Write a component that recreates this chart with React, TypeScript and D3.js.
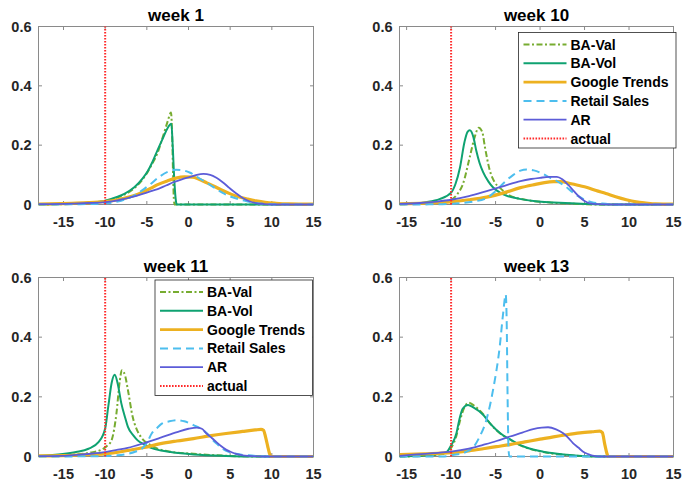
import React from "react";
import * as d3 from "d3";

type Pt = [number, number];

// ---------- tick labels ----------
const xTicks = [-15, -10, -5, 0, 5, 10, 15];
const yTicks = [0, 0.2, 0.4, 0.6];
const seriesNames = ["BA-Val", "BA-Vol", "Google Trends", "Retail Sales", "AR"];
const actualName = "actual";
const actualValue = -10;
const panelTitles = ["week 1", "week 10", "week 11", "week 13"];
const xMins = [-18, -15.8, -18, -15.8];

// ---------- week 1 ----------
const w1BAVal: Pt[] = [[-18,0],[-14,0.002],[-12,0.005],[-10,0.012],[-8.5,0.024],[-7.7,0.033],[-6.5,0.055],[-5.5,0.085],[-4.9,0.11],[-4.3,0.14],[-3.7,0.175],[-3,0.235],[-2.5,0.28],[-2.1,0.31],[-1.95,0.22],[-1.85,0.1],[-1.75,0.015],[-1.65,0],[15,0]];
const w1BAVol: Pt[] = [[-18,0],[-14,0.003],[-12,0.006],[-10,0.013],[-8.5,0.026],[-7.7,0.036],[-6.5,0.058],[-5.5,0.088],[-4.9,0.112],[-4.3,0.145],[-3.7,0.184],[-3,0.228],[-2.5,0.258],[-2.05,0.272],[-1.9,0.2],[-1.7,0.08],[-1.5,0.01],[-1.4,0],[15,0]];
const w1Google: Pt[] = [[-18,0.001],[-14,0.004],[-12,0.006],[-10,0.01],[-8.5,0.016],[-7.7,0.021],[-6.5,0.03],[-5.7,0.039],[-4.5,0.055],[-3.7,0.067],[-2.5,0.08],[-1.5,0.089],[-0.5,0.093],[0.5,0.092],[1.2,0.086],[2.2,0.073],[3.2,0.06],[4.1,0.047],[5.1,0.035],[6.1,0.025],[7.1,0.018],[8.1,0.012],[9.2,0.007],[10.5,0.004],[12,0.002],[15,0.001]];
const w1Retail: Pt[] = [[-18,0],[-13,0.001],[-10,0.004],[-8.5,0.01],[-7.7,0.016],[-6.5,0.03],[-5.7,0.045],[-4.5,0.07],[-3.7,0.089],[-2.5,0.11],[-1.5,0.117],[-0.5,0.114],[0.2,0.107],[1.2,0.09],[2.2,0.073],[3.2,0.055],[4.1,0.039],[5.1,0.026],[6.1,0.017],[7.1,0.01],[8.1,0.005],[10,0.001],[15,0]];
const w1AR: Pt[] = [[-18,0.001],[-14,0.003],[-12,0.005],[-10,0.008],[-8.5,0.014],[-7.7,0.019],[-6.5,0.027],[-5.7,0.034],[-4.5,0.045],[-3.7,0.052],[-2.7,0.064],[-1.8,0.075],[-0.8,0.085],[0.2,0.093],[1,0.1],[1.8,0.103],[2.6,0.1],[3.35,0.09],[4.1,0.075],[4.9,0.056],[5.7,0.038],[6.5,0.022],[7.3,0.011],[8.1,0.005],[9,0.002],[10,0],[15,0]];

// ---------- week 10 ----------
const w10BAVal: Pt[] = [[-15.8,0.001],[-13,0.003],[-11.3,0.008],[-10,0.016],[-9.3,0.035],[-8.66,0.07],[-7.9,0.16],[-7.35,0.227],[-6.9,0.259],[-6.5,0.245],[-6.2,0.194],[-5.65,0.115],[-5.1,0.075],[-4.5,0.056],[-3.4,0.03],[-1.5,0.015],[1.5,0.006],[4,0.002],[7,0],[15,0]];
const w10BAVol: Pt[] = [[-15.8,0.002],[-14,0.004],[-12.8,0.008],[-11.3,0.018],[-10,0.04],[-9.5,0.07],[-9,0.125],[-8.5,0.21],[-8.15,0.245],[-7.9,0.25],[-7.5,0.228],[-7.16,0.18],[-6.8,0.14],[-6.4,0.109],[-5.8,0.077],[-5.3,0.058],[-4.5,0.04],[-3.8,0.03],[-2.3,0.019],[-0.5,0.011],[1.5,0.007],[3.5,0.004],[5.2,0.002],[8,0],[15,0]];
const w10Google: Pt[] = [[-15.8,0.002],[-13.5,0.004],[-11.6,0.006],[-9.8,0.01],[-8,0.016],[-6,0.025],[-4,0.04],[-2.3,0.056],[-0.5,0.068],[0.5,0.074],[1.5,0.077],[2.3,0.077],[3.5,0.07],[4.5,0.063],[5.2,0.058],[6.3,0.047],[7.4,0.037],[8.5,0.026],[9.7,0.016],[10.8,0.009],[11.9,0.005],[13,0.002],[15,0.001]];
const w10Retail: Pt[] = [[-15.8,0],[-11,0.001],[-9,0.004],[-7.5,0.01],[-6,0.022],[-5,0.045],[-4,0.075],[-3,0.1],[-2.2,0.114],[-1.5,0.118],[-0.7,0.115],[0.2,0.105],[1,0.092],[2,0.077],[2.8,0.062],[3.5,0.045],[4.3,0.028],[5,0.016],[5.8,0.008],[7,0.003],[9,0],[15,0]];
const w10AR: Pt[] = [[-15.8,0.002],[-13.5,0.005],[-11.6,0.01],[-10,0.016],[-8,0.028],[-6,0.045],[-4,0.063],[-2.2,0.079],[-1,0.086],[0,0.09],[1,0.093],[1.9,0.093],[2.5,0.085],[3.2,0.065],[3.8,0.045],[4.4,0.026],[5,0.012],[5.6,0.004],[6.5,0.001],[8,0],[15,0]];

// ---------- week 11 ----------
const w11BAVal: Pt[] = [[-18,0.001],[-15,0.004],[-12,0.012],[-10.5,0.022],[-9.8,0.035],[-9.24,0.054],[-8.65,0.144],[-8.26,0.25],[-8.0,0.289],[-7.6,0.27],[-7.27,0.223],[-6.7,0.133],[-6.2,0.09],[-5.7,0.065],[-4.5,0.037],[-2.55,0.018],[0.6,0.009],[4,0.003],[8,0],[15,0]];
const w11BAVol: Pt[] = [[-18,0.002],[-15.1,0.008],[-13.5,0.015],[-12,0.026],[-10.8,0.048],[-10,0.094],[-9.63,0.167],[-9.2,0.25],[-8.85,0.274],[-8.5,0.245],[-8.06,0.178],[-7.6,0.13],[-7.27,0.099],[-6.6,0.07],[-6.1,0.054],[-5.3,0.04],[-4.5,0.029],[-3.3,0.02],[-2.15,0.015],[0.6,0.007],[4.5,0.002],[8,0],[15,0]];
const w11Google: Pt[] = [[-18,0.002],[-15.1,0.003],[-12.5,0.006],[-10,0.009],[-7.3,0.02],[-5.3,0.03],[-3.34,0.043],[-1.4,0.052],[0.6,0.06],[2.5,0.069],[4.5,0.077],[6.5,0.084],[8.0,0.089],[8.7,0.091],[9.0,0.088],[9.25,0.065],[9.5,0.035],[9.7,0.012],[9.9,0],[15,0]];
const w11Retail: Pt[] = [[-18,0],[-11.2,0.001],[-8.5,0.004],[-7.3,0.009],[-6.4,0.016],[-5.6,0.026],[-5,0.045],[-4.4,0.078],[-3.8,0.095],[-3.2,0.11],[-2.3,0.118],[-1.4,0.122],[-0.5,0.118],[0.6,0.105],[1.76,0.088],[2.4,0.072],[2.94,0.054],[3.5,0.04],[4.1,0.026],[4.9,0.015],[5.7,0.009],[7.6,0.003],[10,0],[15,0]];
const w11AR: Pt[] = [[-18,0.001],[-15.1,0.002],[-13.2,0.006],[-11.5,0.01],[-10,0.015],[-8.6,0.022],[-7.3,0.029],[-5.3,0.045],[-3.34,0.063],[-1.37,0.082],[0,0.093],[1,0.097],[1.6,0.093],[2.17,0.077],[2.8,0.062],[3.35,0.048],[3.9,0.035],[4.5,0.023],[5.1,0.015],[5.7,0.009],[6.5,0.004],[7.3,0.002],[9,0],[15,0]];

// ---------- week 13 ----------
const w13BAVal: Pt[] = [[-15.8,0],[-13,0.002],[-11,0.008],[-10.5,0.012],[-9.97,0.03],[-9.4,0.07],[-9.0,0.12],[-8.5,0.165],[-8.0,0.18],[-7.4,0.17],[-6.4,0.142],[-5.6,0.11],[-4.9,0.088],[-4.2,0.071],[-3.4,0.057],[-2.5,0.041],[-1.53,0.029],[0.35,0.015],[3.0,0.005],[5.2,0.001],[7,0],[15,0]];
const w13BAVol: Pt[] = [[-15.8,0],[-13,0.003],[-12,0.006],[-11,0.01],[-10.5,0.015],[-9.97,0.039],[-9.4,0.078],[-9.1,0.12],[-8.7,0.16],[-8.1,0.173],[-7.5,0.165],[-6.4,0.14],[-5.6,0.11],[-4.9,0.089],[-4.2,0.072],[-3.4,0.058],[-2.5,0.042],[-1.53,0.03],[0.35,0.016],[3.0,0.006],[5.2,0.001],[7,0],[15,0]];
const w13Google: Pt[] = [[-15.8,0.006],[-13,0.009],[-10,0.013],[-8,0.019],[-6.4,0.026],[-4.9,0.033],[-3.4,0.04],[-1.7,0.049],[0,0.058],[1.5,0.066],[3,0.073],[4.5,0.079],[5.9,0.083],[6.7,0.085],[7.0,0.08],[7.28,0.04],[7.5,0.012],[7.65,0],[15,0]];
const w13Retail: Pt[] = [[-15.8,0],[-11,0],[-9.8,0.005],[-8.28,0.016],[-7.53,0.03],[-6.78,0.067],[-6.03,0.123],[-5.28,0.224],[-4.53,0.369],[-4.15,0.48],[-3.86,0.543],[-3.75,0.45],[-3.65,0.2],[-3.55,0.03],[-3.45,0],[15,0]];
const w13AR: Pt[] = [[-15.8,0.002],[-13.9,0.007],[-12,0.011],[-10,0.016],[-8,0.026],[-6.4,0.039],[-4.9,0.052],[-3.4,0.067],[-2,0.08],[-0.78,0.092],[0.2,0.097],[0.9,0.098],[1.8,0.091],[2.6,0.078],[3.2,0.062],[3.7,0.045],[4.3,0.03],[4.8,0.017],[5.4,0.008],[5.9,0.003],[7,0],[15,0]];

const panelSeries: Pt[][][] = [
  [w1BAVal, w1BAVol, w1Google, w1Retail, w1AR],
  [w10BAVal, w10BAVol, w10Google, w10Retail, w10AR],
  [w11BAVal, w11BAVol, w11Google, w11Retail, w11AR],
  [w13BAVal, w13BAVol, w13Google, w13Retail, w13AR],
];

// ---------- styles ----------
const styles = [
  { color: "#77AC30", width: 2, dash: "6,2.5,2,2.5" },
  { color: "#0FA271", width: 2, dash: "" },
  { color: "#EDB120", width: 3.2, dash: "" },
  { color: "#4DBEEE", width: 2, dash: "8,5" },
  { color: "#5C5CD8", width: 1.8, dash: "" },
];
const actualStyle = { color: "#FF2A2A", width: 2, dash: "1.6,1.4" };

const layout = [
  { left: 38.5, right: 313.5, top: 26.5, bottom: 204.5, legend: null as null | { x: number; y: number } },
  { left: 399.5, right: 673.5, top: 26.5, bottom: 204.5, legend: { x: 518.5, y: 32.5 } },
  { left: 38.5, right: 313.5, top: 277.5, bottom: 456.5, legend: { x: 155, y: 280 } },
  { left: 399.5, right: 673.5, top: 277.5, bottom: 456.5, legend: null },
];

const FONT = "'Liberation Sans', Arial, Helvetica, sans-serif";
const TEXT = "#262626";
const AXIS = "#8a8a8a";

function Panel({ idx }: { idx: number }) {
  const L = layout[idx];
  const x = d3.scaleLinear().domain([xMins[idx], 15]).range([L.left, L.right]);
  const y = d3.scaleLinear().domain([0, 0.6]).range([L.bottom, L.top]);
  const line = d3
    .line<Pt>()
    .x((d) => x(d[0]))
    .y((d) => y(d[1]))
    .curve(d3.curveMonotoneX);
  const cx = (L.left + L.right) / 2;
  const tk = 3.5;
  const legW = 157.5;
  const rowH = 18.8;
  const clipId = `clip${idx}`;
  return (
    <g>
      <defs>
        <clipPath id={clipId}>
          <rect x={L.left} y={L.top - 2} width={L.right - L.left} height={L.bottom - L.top + 4} />
        </clipPath>
      </defs>
      <text x={cx} y={L.top - 5.5} textAnchor="middle" fontFamily={FONT} fontWeight="bold" fontSize={17} fill="#000">
        {panelTitles[idx]}
      </text>
      {/* box */}
      <rect x={L.left} y={L.top} width={L.right - L.left} height={L.bottom - L.top} fill="white" stroke={AXIS} strokeWidth={1} />
      {/* x ticks */}
      {xTicks.map((t) => (
        <g key={"xt" + t}>
          <line x1={x(t)} x2={x(t)} y1={L.bottom} y2={L.bottom - tk} stroke={AXIS} />
          <line x1={x(t)} x2={x(t)} y1={L.top} y2={L.top + tk} stroke={AXIS} />
          <text x={x(t)} y={L.bottom + 22} textAnchor="middle" fontFamily={FONT} fontWeight="bold" fontSize={14.5} fill={TEXT}>
            {t}
          </text>
        </g>
      ))}
      {yTicks.map((t) => (
        <g key={"yt" + t}>
          <line x1={L.left} x2={L.left + tk} y1={y(t)} y2={y(t)} stroke={AXIS} />
          <line x1={L.right} x2={L.right - tk} y1={y(t)} y2={y(t)} stroke={AXIS} />
          <text x={L.left - 7} y={y(t)} dy="0.36em" textAnchor="end" fontFamily={FONT} fontWeight="bold" fontSize={14.5} fill={TEXT}>
            {t === 0 ? "0" : t.toFixed(1)}
          </text>
        </g>
      ))}
      <g clipPath={`url(#${clipId})`}>
        {panelSeries[idx].map((s, i) => (
          <path
            key={"s" + i}
            d={line(s) || ""}
            fill="none"
            stroke={styles[i].color}
            strokeWidth={styles[i].width}
            strokeDasharray={styles[i].dash || undefined}
            strokeLinejoin="round"
          />
        ))}
        <line
          x1={x(actualValue)}
          x2={x(actualValue)}
          y1={y(0)}
          y2={y(0.6)}
          stroke={actualStyle.color}
          strokeWidth={actualStyle.width}
          strokeDasharray={actualStyle.dash}
        />
      </g>
      {L.legend && (
        <g>
          <rect x={L.legend.x} y={L.legend.y} width={legW} height={115.5} fill="white" stroke="#262626" strokeWidth={0.8} />
          {[...seriesNames, actualName].map((name, i) => {
            const st = i < styles.length ? styles[i] : actualStyle;
            const ry = L.legend!.y + 12 + i * rowH;
            return (
              <g key={"lg" + i}>
                <line
                  x1={L.legend!.x + 5}
                  x2={L.legend!.x + 48}
                  y1={ry}
                  y2={ry}
                  stroke={st.color}
                  strokeWidth={i === 2 ? 2.6 : st.width}
                  strokeDasharray={st.dash || undefined}
                />
                <text x={L.legend!.x + 52} y={ry} dy="0.36em" fontFamily={FONT} fontWeight="bold" fontSize={14} fill="#000">
                  {name}
                </text>
              </g>
            );
          })}
        </g>
      )}
    </g>
  );
}

export default function App() {
  return (
    <svg
      width={684}
      height={482}
      viewBox="0 0 684 482"
      style={{ position: "absolute", left: 0, top: 0, background: "white" }}
    >
      <rect x={0} y={0} width={684} height={482} fill="white" />
      {[0, 1, 2, 3].map((i) => (
        <Panel key={i} idx={i} />
      ))}
    </svg>
  );
}
